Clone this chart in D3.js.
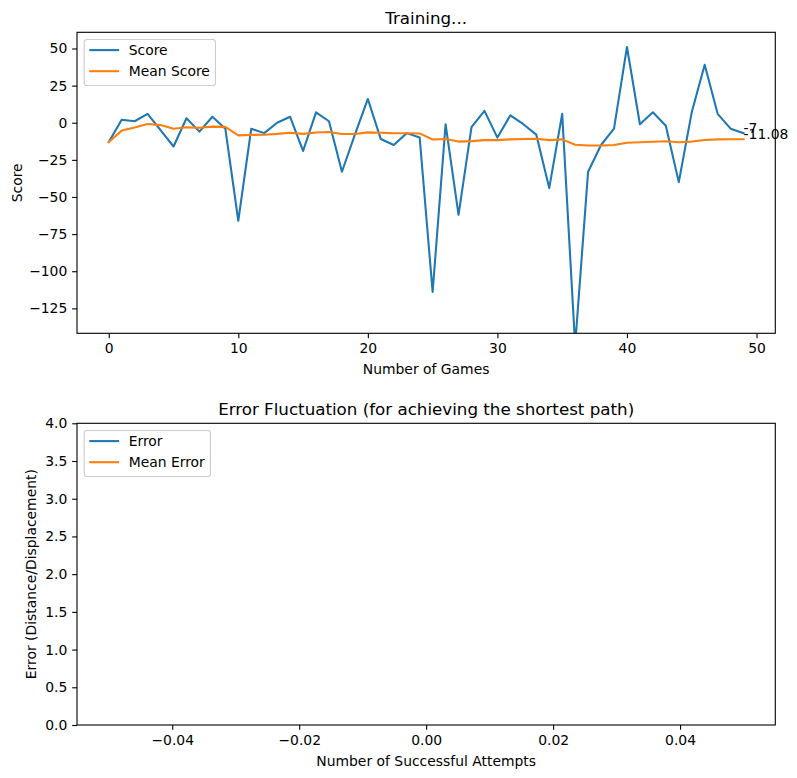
<!DOCTYPE html>
<html>
<head>
<meta charset="utf-8">
<script src="https://cdn.jsdelivr.net/npm/d3@7"></script>
<style>
body { margin: 0; background: #fff; }
text { font-family: "DejaVu Sans", sans-serif; fill: #000; }
</style>
</head>
<body>
<div id="chart"></div>
<script>
// values
const scores = [-13, 2, 1, 6, -5, -16, 3, -6, 4, -4,
                -66, -4, -7, 0, 4, -19, 7, 1, -33, -8,
                16, -11, -15, -7, -10, -114, -1, -62, -3, 8,
                -10, 5, -1, -8, -44, 6, -150, -33, -15, -4,
                51, -1, 7, -2, -40, 7, 39, 6, -4, -7];
const meanScores = [-13, -5.3, -3.2, -0.9, -1.6, -4.0, -3.1, -3.4, -2.6, -2.8,
                    -8.5, -8.2, -8.1, -7.5, -6.7, -7.5, -6.6, -6.2, -7.6, -7.6,
                    -6.5, -6.7, -7.1, -7.1, -7.2, -11.3, -10.9, -12.7, -12.4, -11.7,
                    -11.7, -11.2, -10.9, -10.8, -11.7, -11.2, -14.8, -15.3, -15.3, -15.0,
                    -13.5, -13.2, -12.8, -12.5, -13.1, -12.7, -11.6, -11.2, -11.1, -11.08];
const errors = [];
const meanErrors = [];

const scoreXTicks = [0, 10, 20, 30, 40, 50];
const scoreYTicks = [-125, -100, -75, -50, -25, 0, 25, 50];
const scoreXDomain = [-2.45, 51.45];
const scoreYDomain = [-141.8, 60.9];

const errorXTicks = [-0.04, -0.02, 0, 0.02, 0.04];
const errorYTicks = [0, 0.5, 1, 1.5, 2, 2.5, 3, 3.5, 4];
const errorXDomain = [-0.055, 0.055];
const errorYDomain = [0, 4];

const W = 797, H = 778;
const FS = 13.9;            // 10pt at 100 dpi
const BLUE = "#1f77b4", ORANGE = "#ff7f0e";

const svg = d3.select("#chart").append("svg")
    .attr("width", W)
    .attr("height", H);

function drawPanel(cfg) {
    const x = d3.scaleLinear().domain(cfg.xDomain).range([cfg.left, cfg.right]);
    const y = d3.scaleLinear().domain(cfg.yDomain).range([cfg.bottom, cfg.top]);

    svg.append("clipPath").attr("id", cfg.id)
        .append("rect")
        .attr("x", cfg.left).attr("y", cfg.top)
        .attr("width", cfg.right - cfg.left).attr("height", cfg.bottom - cfg.top);

    const line = d3.line().x((d, i) => x(i)).y(d => y(d));

    const plot = svg.append("g").attr("clip-path", `url(#${cfg.id})`);
    cfg.series.forEach(s => {
        if (!s.values.length) return;
        plot.append("path")
            .datum(s.values)
            .attr("d", line)
            .attr("fill", "none")
            .attr("stroke", s.color)
            .attr("stroke-width", 2.08)
            .attr("stroke-linejoin", "round")
            .attr("stroke-linecap", "square");
    });

    // axes
    const xAxis = d3.axisBottom(x).tickValues(cfg.xTicks).tickFormat(cfg.xFormat)
        .tickSize(4.86).tickPadding(4.86);
    const yAxis = d3.axisLeft(y).tickValues(cfg.yTicks).tickFormat(cfg.yFormat)
        .tickSize(4.86).tickPadding(4.86);

    const gx = svg.append("g").attr("transform", `translate(0,${cfg.bottom})`).call(xAxis);
    const gy = svg.append("g").attr("transform", `translate(${cfg.left},0)`).call(yAxis);
    [gx, gy].forEach(g => {
        g.select(".domain").remove();
        g.selectAll("line").attr("stroke", "#000").attr("stroke-width", 1.1);
        g.selectAll("text").attr("font-size", FS).attr("font-family", "DejaVu Sans").attr("fill", "#000");
    });

    // frame
    svg.append("rect")
        .attr("x", cfg.left).attr("y", cfg.top)
        .attr("width", cfg.right - cfg.left).attr("height", cfg.bottom - cfg.top)
        .attr("fill", "none").attr("stroke", "#000").attr("stroke-width", 1.1);

    const cx = (cfg.left + cfg.right) / 2;
    svg.append("text")
        .attr("x", cx).attr("y", cfg.top - 8.3)
        .attr("text-anchor", "middle").attr("font-size", 16.7)
        .text(cfg.title);
    svg.append("text")
        .attr("x", cx).attr("y", cfg.xLabelY)
        .attr("text-anchor", "middle").attr("font-size", FS)
        .text(cfg.xLabel);
    svg.append("text")
        .attr("transform", `translate(${cfg.yLabelX},${(cfg.top + cfg.bottom) / 2}) rotate(-90)`)
        .attr("text-anchor", "middle").attr("font-size", FS)
        .text(cfg.yLabel);

    // legend
    const lg = svg.append("g");
    const bx = cfg.left + 7.2, by = cfg.top + 7.2;
    const box = lg.append("rect")
        .attr("x", bx).attr("y", by)
        .attr("rx", 2.8).attr("ry", 2.8)
        .attr("fill", "#fff").attr("fill-opacity", 0.8)
        .attr("stroke", "#cccccc").attr("stroke-width", 1.1);
    let maxW = 0;
    cfg.series.forEach((s, i) => {
        const ry = by + 10.6 + i * 21.1;
        lg.append("line")
            .attr("x1", bx + 6.1).attr("x2", bx + 33.9)
            .attr("y1", ry).attr("y2", ry)
            .attr("stroke", s.color).attr("stroke-width", 2.08)
            .attr("stroke-linecap", "square");
        const t = lg.append("text")
            .attr("x", bx + 44.5).attr("y", ry + 5)
            .attr("font-size", FS)
            .text(s.name);
        maxW = Math.max(maxW, t.node().getComputedTextLength());
    });
    box.attr("width", 44.5 + maxW + 5.6).attr("height", 46);

    // last values next to the line ends
    cfg.series.forEach(s => {
        if (!s.values.length) return;
        const n = s.values.length - 1;
        svg.append("text")
            .attr("x", x(n)).attr("y", y(s.values[n]))
            .attr("font-size", FS)
            .text(String(s.values[n]));
    });
}

drawPanel({
    id: "clipTop",
    left: 77, right: 775.3, top: 32.3, bottom: 333.3,
    xDomain: scoreXDomain, yDomain: scoreYDomain,
    xTicks: scoreXTicks, yTicks: scoreYTicks,
    xFormat: d3.format("d"), yFormat: d3.format("d"),
    title: "Training...",
    xLabel: "Number of Games", xLabelY: 374,
    yLabel: "Score", yLabelX: 21.5,
    series: [
        { name: "Score", values: scores, color: BLUE },
        { name: "Mean Score", values: meanScores, color: ORANGE }
    ]
});

drawPanel({
    id: "clipBottom",
    left: 77, right: 775.3, top: 423.3, bottom: 725,
    xDomain: errorXDomain, yDomain: errorYDomain,
    xTicks: errorXTicks, yTicks: errorYTicks,
    xFormat: d3.format(".2f"), yFormat: d3.format(".1f"),
    title: "Error Fluctuation (for achieving the shortest path)",
    xLabel: "Number of Successful Attempts", xLabelY: 766,
    yLabel: "Error (Distance/Displacement)", yLabelX: 36,
    series: [
        { name: "Error", values: errors, color: BLUE },
        { name: "Mean Error", values: meanErrors, color: ORANGE }
    ]
});
</script>
</body>
</html>
